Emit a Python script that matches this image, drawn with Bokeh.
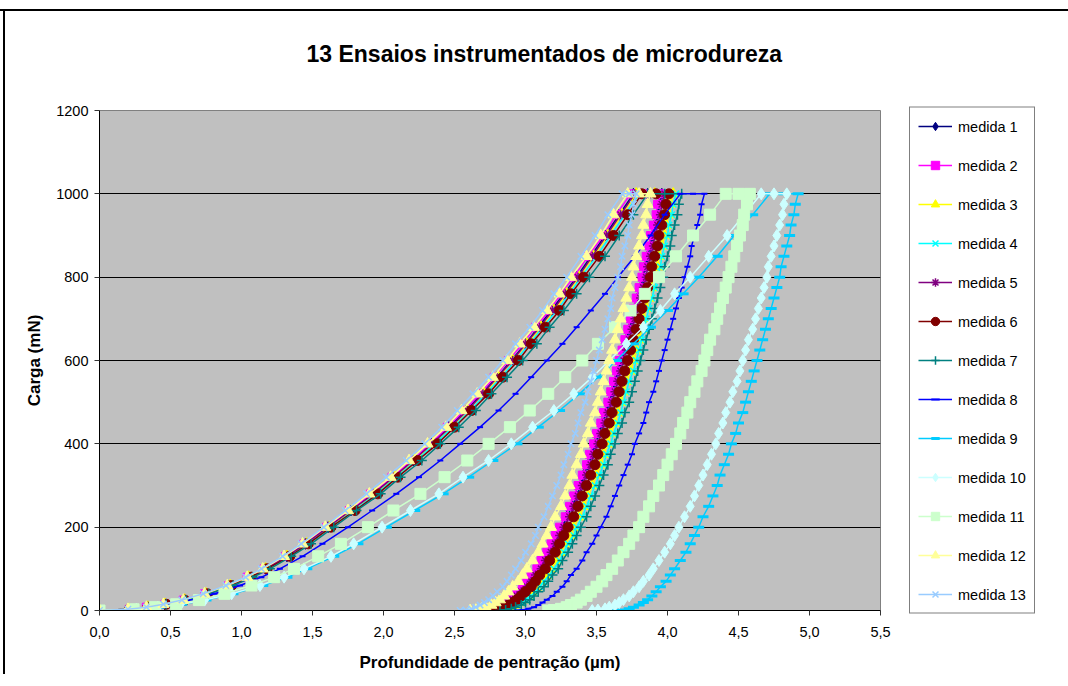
from bokeh.plotting import figure
from bokeh.models import Legend, LegendItem, FixedTicker, Range1d, CustomJSTickFormatter
from bokeh.embed import file_html
from bokeh.resources import INLINE

TITLE = "13 Ensaios instrumentados de microdureza"
X_LABEL = "Profundidade de pentração (µm)"
Y_LABEL = "Carga (mN)"
SERIES = ["medida %d" % i for i in range(1, 14)]
X_TICKS = [0.0, 0.5, 1.0, 1.5, 2.0, 2.5, 3.0, 3.5, 4.0, 4.5, 5.0, 5.5]
Y_TICKS = [0, 200, 400, 600, 800, 1000, 1200]

# loads (mN) shared by all tests
LOAD_UP = [0, 3, 8, 15, 25, 40, 60, 80, 100, 130, 160, 200, 240, 280, 320, 360, 400,
           440, 480, 520, 560, 600, 640, 680, 720, 760, 800, 850, 900, 950, 1000]
LOAD_HOLD = 1000
LOAD_DN = [1000, 975, 950, 925, 900, 875, 850, 825, 800, 775, 750, 725, 700, 675, 650,
           625, 600, 575, 550, 525, 500, 475, 450, 425, 400, 375, 350, 325, 300, 275,
           250, 225, 200, 180, 160, 140, 120, 100, 85, 70, 57, 45, 35, 26, 19, 13, 8, 4, 1, 0]

# depths (um) on loading
UP_01 = [0, 0.21, 0.33, 0.46, 0.59, 0.75, 0.91, 1.05, 1.17, 1.32, 1.45, 1.61, 1.77, 1.93, 2.07, 2.21, 2.34, 2.46, 2.58, 2.69, 2.80, 2.90, 3.00, 3.09, 3.18, 3.27, 3.36, 3.46, 3.56, 3.66, 3.76]
UP_02 = [0, 0.21, 0.33, 0.46, 0.59, 0.74, 0.91, 1.04, 1.16, 1.31, 1.44, 1.60, 1.76, 1.91, 2.06, 2.20, 2.33, 2.45, 2.57, 2.68, 2.78, 2.88, 2.98, 3.07, 3.17, 3.25, 3.34, 3.44, 3.55, 3.64, 3.74]
UP_03 = [0, 0.21, 0.34, 0.46, 0.60, 0.75, 0.92, 1.05, 1.17, 1.32, 1.46, 1.62, 1.78, 1.94, 2.08, 2.22, 2.35, 2.48, 2.59, 2.71, 2.81, 2.91, 3.01, 3.11, 3.20, 3.29, 3.38, 3.48, 3.58, 3.68, 3.78]
UP_04 = [0, 0.21, 0.34, 0.46, 0.60, 0.76, 0.92, 1.06, 1.18, 1.33, 1.46, 1.63, 1.79, 1.95, 2.09, 2.23, 2.36, 2.49, 2.61, 2.72, 2.83, 2.93, 3.03, 3.12, 3.22, 3.31, 3.39, 3.50, 3.60, 3.70, 3.80]
UP_05 = [0, 0.21, 0.34, 0.46, 0.60, 0.75, 0.92, 1.05, 1.17, 1.32, 1.45, 1.61, 1.77, 1.93, 2.07, 2.21, 2.34, 2.47, 2.59, 2.70, 2.80, 2.91, 3.00, 3.10, 3.19, 3.28, 3.37, 3.47, 3.57, 3.67, 3.77]
UP_06 = [0, 0.21, 0.34, 0.47, 0.60, 0.76, 0.93, 1.07, 1.18, 1.34, 1.47, 1.63, 1.80, 1.96, 2.10, 2.24, 2.38, 2.50, 2.62, 2.74, 2.84, 2.95, 3.04, 3.14, 3.24, 3.32, 3.41, 3.52, 3.62, 3.72, 3.82]
UP_07 = [0, 0.21, 0.34, 0.47, 0.61, 0.77, 0.94, 1.08, 1.20, 1.35, 1.49, 1.65, 1.81, 1.98, 2.12, 2.27, 2.40, 2.53, 2.65, 2.76, 2.87, 2.98, 3.08, 3.17, 3.27, 3.36, 3.45, 3.56, 3.66, 3.76, 3.86]
UP_08 = [0, 0.23, 0.36, 0.50, 0.65, 0.81, 0.99, 1.14, 1.27, 1.43, 1.57, 1.75, 1.92, 2.09, 2.25, 2.40, 2.54, 2.68, 2.81, 2.93, 3.04, 3.15, 3.26, 3.36, 3.46, 3.56, 3.65, 3.77, 3.88, 3.98, 4.09]
UP_09 = [0, 0.26, 0.42, 0.58, 0.75, 0.94, 1.15, 1.32, 1.46, 1.65, 1.82, 2.02, 2.22, 2.42, 2.60, 2.77, 2.94, 3.09, 3.24, 3.38, 3.51, 3.64, 3.76, 3.88, 4.00, 4.11, 4.22, 4.35, 4.47, 4.60, 4.72]
UP_10 = [0, 0.26, 0.41, 0.57, 0.74, 0.93, 1.13, 1.30, 1.44, 1.63, 1.79, 1.99, 2.19, 2.39, 2.56, 2.74, 2.90, 3.05, 3.20, 3.34, 3.47, 3.59, 3.71, 3.83, 3.95, 4.05, 4.16, 4.29, 4.42, 4.54, 4.66]
UP_11 = [0, 0.24, 0.39, 0.54, 0.70, 0.88, 1.07, 1.23, 1.37, 1.54, 1.70, 1.89, 2.07, 2.26, 2.43, 2.59, 2.74, 2.89, 3.03, 3.16, 3.28, 3.40, 3.51, 3.63, 3.74, 3.84, 3.94, 4.06, 4.18, 4.30, 4.41]
UP_12 = [0, 0.20, 0.33, 0.45, 0.59, 0.74, 0.90, 1.04, 1.15, 1.30, 1.43, 1.59, 1.75, 1.90, 2.05, 2.18, 2.31, 2.44, 2.55, 2.66, 2.77, 2.87, 2.96, 3.06, 3.15, 3.24, 3.32, 3.43, 3.53, 3.62, 3.72]
UP_13 = [0, 0.20, 0.33, 0.45, 0.58, 0.73, 0.89, 1.03, 1.14, 1.29, 1.42, 1.58, 1.73, 1.88, 2.02, 2.16, 2.29, 2.41, 2.52, 2.63, 2.74, 2.84, 2.93, 3.03, 3.12, 3.20, 3.29, 3.39, 3.49, 3.58, 3.68]

# depth in the middle of the hold at maximum load
HOLD = [3.86, 3.84, 3.91, 3.93, 3.88, 3.92, 3.98, 4.18, 4.82, 4.75, 4.50, 3.80, 3.73]

# depths (um) on unloading
DN_01 = [3.96, 3.94, 3.93, 3.91, 3.90, 3.88, 3.86, 3.84, 3.83, 3.81, 3.79, 3.77, 3.75, 3.73, 3.71, 3.69, 3.67, 3.65, 3.63, 3.61, 3.59, 3.57, 3.54, 3.52, 3.49, 3.47, 3.44, 3.41, 3.39, 3.36, 3.33, 3.29, 3.26, 3.23, 3.20, 3.17, 3.13, 3.09, 3.06, 3.03, 2.99, 2.96, 2.93, 2.90, 2.87, 2.84, 2.80, 2.77, 2.73, 2.69]
DN_02 = [3.95, 3.93, 3.92, 3.90, 3.88, 3.87, 3.85, 3.83, 3.82, 3.80, 3.78, 3.76, 3.74, 3.72, 3.70, 3.68, 3.66, 3.64, 3.62, 3.60, 3.58, 3.55, 3.53, 3.50, 3.48, 3.45, 3.43, 3.40, 3.37, 3.34, 3.31, 3.28, 3.24, 3.21, 3.18, 3.15, 3.11, 3.08, 3.04, 3.01, 2.98, 2.94, 2.91, 2.88, 2.85, 2.82, 2.78, 2.75, 2.71, 2.67]
DN_03 = [4.04, 4.02, 4.01, 3.99, 3.98, 3.96, 3.94, 3.93, 3.91, 3.89, 3.87, 3.85, 3.83, 3.82, 3.80, 3.78, 3.76, 3.74, 3.71, 3.69, 3.67, 3.65, 3.63, 3.60, 3.58, 3.55, 3.53, 3.50, 3.47, 3.44, 3.41, 3.38, 3.34, 3.32, 3.28, 3.25, 3.22, 3.18, 3.15, 3.11, 3.08, 3.05, 3.02, 2.98, 2.95, 2.92, 2.89, 2.86, 2.82, 2.78]
DN_04 = [4.06, 4.04, 4.03, 4.01, 4.00, 3.98, 3.96, 3.95, 3.93, 3.91, 3.89, 3.87, 3.85, 3.84, 3.82, 3.80, 3.78, 3.76, 3.73, 3.71, 3.69, 3.67, 3.65, 3.62, 3.60, 3.57, 3.55, 3.52, 3.49, 3.46, 3.43, 3.40, 3.36, 3.34, 3.30, 3.27, 3.24, 3.20, 3.17, 3.13, 3.10, 3.07, 3.04, 3.00, 2.97, 2.94, 2.91, 2.88, 2.84, 2.80]
DN_05 = [3.98, 3.96, 3.95, 3.93, 3.91, 3.90, 3.88, 3.86, 3.85, 3.83, 3.81, 3.79, 3.77, 3.75, 3.73, 3.71, 3.69, 3.67, 3.65, 3.63, 3.61, 3.58, 3.56, 3.53, 3.51, 3.48, 3.46, 3.43, 3.40, 3.37, 3.34, 3.31, 3.27, 3.24, 3.21, 3.18, 3.14, 3.11, 3.07, 3.04, 3.01, 2.97, 2.94, 2.91, 2.88, 2.85, 2.81, 2.78, 2.74, 2.70]
DN_06 = [4.01, 3.99, 3.98, 3.96, 3.94, 3.93, 3.91, 3.89, 3.88, 3.86, 3.84, 3.82, 3.80, 3.78, 3.76, 3.74, 3.72, 3.70, 3.68, 3.66, 3.64, 3.61, 3.59, 3.56, 3.54, 3.51, 3.49, 3.46, 3.43, 3.40, 3.37, 3.34, 3.30, 3.27, 3.24, 3.21, 3.17, 3.14, 3.10, 3.07, 3.04, 3.00, 2.97, 2.94, 2.91, 2.88, 2.84, 2.81, 2.77, 2.73]
DN_07 = [4.10, 4.08, 4.07, 4.05, 4.03, 4.02, 4.00, 3.98, 3.97, 3.95, 3.93, 3.91, 3.89, 3.87, 3.85, 3.83, 3.81, 3.79, 3.77, 3.75, 3.73, 3.70, 3.68, 3.65, 3.63, 3.60, 3.58, 3.55, 3.52, 3.49, 3.46, 3.43, 3.39, 3.36, 3.33, 3.30, 3.26, 3.23, 3.19, 3.16, 3.13, 3.09, 3.06, 3.03, 3.00, 2.97, 2.93, 2.90, 2.86, 2.82]
DN_08 = [4.26, 4.24, 4.23, 4.21, 4.19, 4.17, 4.16, 4.14, 4.12, 4.10, 4.08, 4.06, 4.04, 4.02, 4.00, 3.98, 3.96, 3.94, 3.92, 3.90, 3.87, 3.85, 3.83, 3.80, 3.77, 3.75, 3.72, 3.69, 3.66, 3.63, 3.60, 3.57, 3.53, 3.50, 3.47, 3.43, 3.40, 3.36, 3.32, 3.29, 3.26, 3.22, 3.19, 3.15, 3.12, 3.09, 3.06, 3.02, 2.98, 2.94]
DN_09 = [4.92, 4.90, 4.89, 4.87, 4.86, 4.84, 4.82, 4.80, 4.79, 4.77, 4.75, 4.73, 4.71, 4.69, 4.67, 4.65, 4.63, 4.61, 4.59, 4.57, 4.55, 4.53, 4.50, 4.48, 4.45, 4.43, 4.40, 4.37, 4.35, 4.32, 4.29, 4.25, 4.22, 4.19, 4.16, 4.13, 4.09, 4.05, 4.02, 3.99, 3.95, 3.92, 3.89, 3.86, 3.83, 3.80, 3.76, 3.73, 3.69, 3.65]
DN_10 = [4.84, 4.82, 4.81, 4.79, 4.77, 4.75, 4.73, 4.71, 4.70, 4.68, 4.66, 4.64, 4.62, 4.60, 4.57, 4.55, 4.53, 4.51, 4.49, 4.46, 4.44, 4.41, 4.39, 4.36, 4.34, 4.31, 4.28, 4.25, 4.22, 4.19, 4.16, 4.12, 4.08, 4.05, 4.02, 3.98, 3.94, 3.90, 3.87, 3.83, 3.80, 3.76, 3.73, 3.69, 3.66, 3.63, 3.59, 3.56, 3.51, 3.47]
DN_11 = [4.58, 4.56, 4.54, 4.53, 4.51, 4.49, 4.47, 4.45, 4.43, 4.41, 4.39, 4.37, 4.35, 4.33, 4.30, 4.28, 4.26, 4.24, 4.21, 4.19, 4.16, 4.14, 4.11, 4.09, 4.06, 4.03, 4.00, 3.97, 3.94, 3.90, 3.87, 3.83, 3.80, 3.76, 3.73, 3.69, 3.65, 3.61, 3.57, 3.54, 3.50, 3.46, 3.43, 3.39, 3.36, 3.32, 3.29, 3.25, 3.20, 3.16]
DN_12 = [3.88, 3.86, 3.85, 3.83, 3.82, 3.80, 3.78, 3.76, 3.75, 3.73, 3.71, 3.69, 3.67, 3.65, 3.63, 3.61, 3.59, 3.57, 3.55, 3.53, 3.51, 3.49, 3.46, 3.44, 3.41, 3.39, 3.36, 3.33, 3.31, 3.28, 3.25, 3.21, 3.18, 3.15, 3.12, 3.09, 3.05, 3.01, 2.98, 2.95, 2.91, 2.88, 2.85, 2.82, 2.79, 2.76, 2.72, 2.69, 2.65, 2.61]
DN_13 = [3.78, 3.76, 3.75, 3.73, 3.72, 3.70, 3.68, 3.67, 3.65, 3.63, 3.61, 3.60, 3.58, 3.56, 3.54, 3.52, 3.50, 3.48, 3.46, 3.44, 3.42, 3.39, 3.37, 3.35, 3.32, 3.30, 3.27, 3.25, 3.22, 3.19, 3.16, 3.13, 3.09, 3.07, 3.04, 3.00, 2.97, 2.93, 2.90, 2.87, 2.84, 2.80, 2.77, 2.74, 2.71, 2.68, 2.65, 2.62, 2.58, 2.54]

UP = [UP_01, UP_02, UP_03, UP_04, UP_05, UP_06, UP_07, UP_08, UP_09, UP_10, UP_11, UP_12, UP_13]
DN = [DN_01, DN_02, DN_03, DN_04, DN_05, DN_06, DN_07, DN_08, DN_09, DN_10, DN_11, DN_12, DN_13]

COLORS = ["#000080", "#FF00FF", "#FFFF00", "#00FFFF", "#800080", "#800000", "#008080",
          "#0000FF", "#00CCFF", "#CCFFFF", "#CCFFCC", "#FFFF99", "#99CCFF"]
MARKERS = ["diamond", "square", "triangle", "x", "asterisk", "circle", "cross",
           "dash", "dash", "diamond", "square", "triangle", "x"]
SIZES = [11, 8, 11, 9, 9, 10, 10, 6, 11, 12, 11, 11, 9]
MLW = [1, 1, 1, 1.5, 1.5, 1, 1.5, 2, 3, 1, 1, 1, 1.5]

FONT = "Liberation Sans"

p = figure(frame_width=781, frame_height=500,
           x_range=Range1d(0, 5.5), y_range=Range1d(0, 1200),
           output_backend="svg", toolbar_location=None,
           min_border_left=99, min_border_right=178, min_border_top=116, min_border_bottom=62,
           background_fill_color="#C0C0C0", border_fill_color=None,
           outline_line_color="#808080", title=TITLE)

# outer chart-area border: only its top and left edges fall inside the picture
p.styles = {
    "margin-top": "-6px",
    "background": ("linear-gradient(#000, #000) 0px 15px / 100% 2px no-repeat, "
                   "linear-gradient(#000, #000) 3px 15px / 2px 100% no-repeat, #fff"),
}

p.title.text_font = FONT
p.title.text_font_size = "23px"
p.title.text_font_style = "bold"
p.title.text_color = "black"
p.title.align = "left"
p.title.offset = 207
p.title.standoff = 88

p.xgrid.visible = False
p.ygrid.ticker = FixedTicker(ticks=Y_TICKS)
p.ygrid.grid_line_color = "black"
p.ygrid.grid_line_width = 1

for ax in (p.xaxis[0], p.yaxis[0]):
    ax.axis_line_color = "black"
    ax.major_tick_line_color = "#333333"
    ax.minor_tick_line_color = None
    ax.major_tick_in = 0
    ax.major_tick_out = 5
    ax.major_label_text_font = FONT
    ax.major_label_text_font_size = "14.5px"
    ax.major_label_text_color = "black"
    ax.axis_label_text_font = FONT
    ax.axis_label_text_font_size = "17px"
    ax.axis_label_text_font_style = "bold"
    ax.axis_label_text_color = "black"

p.xaxis.ticker = FixedTicker(ticks=X_TICKS)
p.xaxis.formatter = CustomJSTickFormatter(code="return tick.toFixed(1).replace('.', ',');")
p.xaxis.axis_label = X_LABEL
p.xaxis.major_label_standoff = 11
p.xaxis.axis_label_standoff = 13
p.yaxis.ticker = FixedTicker(ticks=Y_TICKS)
p.yaxis.axis_label = Y_LABEL
p.yaxis.major_label_standoff = 6
p.yaxis.axis_label_standoff = 9

items = []
for k in range(13):
    xs = UP[k] + [HOLD[k]] + DN[k]
    ys = LOAD_UP + [LOAD_HOLD] + LOAD_DN
    c = COLORS[k]
    lr = p.line(xs, ys, line_color=c, line_width=1.5)
    sr = p.scatter(xs, ys, marker=MARKERS[k], size=SIZES[k],
                   fill_color=c, line_color=c, line_width=MLW[k])
    items.append(LegendItem(label=SERIES[k], renderers=[lr, sr]))

legend = Legend(items=items, location="center_left", margin=29, padding=8,
                spacing=18, glyph_width=34, glyph_height=21, label_height=21,
                label_standoff=6, label_text_font=FONT, label_text_font_size="14.5px",
                label_text_color="black", border_line_color="black", border_line_width=1,
                background_fill_color="white", background_fill_alpha=1)
p.add_layout(legend, "right")

open("out.html", "w").write(file_html(p, INLINE))
